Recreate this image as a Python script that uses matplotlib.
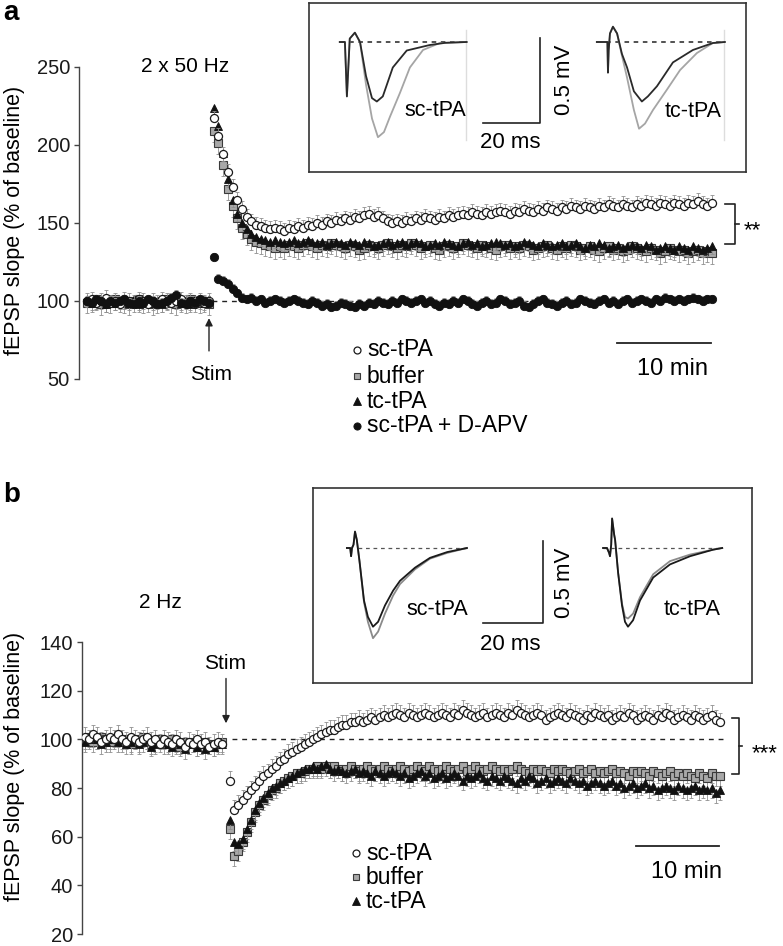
import numpy as np
import matplotlib.pyplot as plt
from matplotlib.lines import Line2D

plt.rcParams['font.family'] = ['Liberation Sans', 'DejaVu Sans']

W, H = 783, 946  # taille de sortie en pixels

# ---------------- a : 2 x 50 Hz (one point every 30 s) ----------------
base_sc_a = [100, 101, 99, 100, 102, 99, 100, 98, 101, 100, 99, 101, 100, 98,
             100, 99, 101, 100, 99, 100, 101, 99, 100, 98, 100, 99, 100]
base_buf_a = [99, 100, 101, 98, 100, 99, 101, 100, 99, 98, 100, 101, 99, 100,
              98, 99, 100, 101, 99, 98, 100, 99, 101, 100, 99, 100, 98]
base_tc_a = [101, 99, 100, 100, 98, 101, 99, 100, 100, 99, 101, 98, 100, 101,
             99, 100, 98, 100, 101, 100, 99, 100, 98, 101, 100, 99, 101]
base_apv_a = [100, 99, 101, 100, 98, 100, 99, 100, 101, 99, 98, 100, 99, 101,
              100, 98, 99, 100, 102, 104, 99, 98, 100, 99, 101, 100, 99]

post_sc_a = [217, 206, 194, 183, 173, 165, 159, 154, 151, 149,
             148, 147, 146, 147, 146, 145, 147, 146, 148, 147,
             149, 148, 150, 149, 151, 150, 152, 151, 153, 152,
             154, 153, 155, 156, 154, 155, 153, 151, 150, 151,
             150, 152, 151, 153, 152, 154, 153, 152, 154, 153,
             155, 154, 155, 156, 155, 157, 156, 155, 157, 156,
             157, 158, 157, 156, 158, 157, 159, 158, 157, 159,
             158, 160, 159, 158, 160, 159, 161, 160, 159, 161,
             160, 159, 161, 160, 162, 161, 160, 162, 161, 160,
             162, 161, 163, 162, 161, 163, 162, 161, 163, 162,
             161, 163, 162, 164, 162, 161, 163]
post_buf_a = [209, 201, 187, 172, 161, 153, 147, 143, 140, 138,
              137, 136, 135, 134, 135, 134, 136, 135, 134, 136,
              137, 135, 134, 136, 135, 137, 136, 135, 134, 136,
              135, 133, 134, 136, 135, 134, 136, 137, 135, 134,
              136, 135, 137, 136, 134, 135, 136, 134, 133, 135,
              136, 134, 135, 137, 136, 135, 134, 136, 135, 134,
              133, 135, 136, 134, 135, 134, 136, 135, 133, 134,
              135, 136, 134, 133, 135, 134, 136, 135, 133, 134,
              135, 133, 132, 134, 135, 133, 134, 132, 133, 135,
              134, 133, 132, 134, 133, 131, 132, 134, 133, 132,
              133, 131, 132, 133, 131, 132, 131]
post_tc_a = [224, 212, 195, 178, 165, 156, 150, 146, 143, 141,
             140, 139, 138, 139, 138, 137, 138, 139, 137, 138,
             139, 138, 137, 138, 136, 137, 138, 137, 136, 138,
             137, 136, 138, 137, 135, 136, 137, 138, 136, 137,
             138, 136, 137, 138, 137, 135, 136, 137, 136, 138,
             137, 136, 135, 137, 138, 136, 137, 135, 136, 137,
             138, 137, 136, 137, 135, 136, 138, 137, 136, 135,
             137, 136, 135, 136, 137, 135, 136, 137, 135, 134,
             136, 135, 137, 136, 134, 135, 136, 134, 135, 136,
             135, 134, 136, 135, 133, 134, 135, 134, 133, 135,
             134, 133, 135, 134, 133, 134, 135]
post_apv_a = [128, 114, 113, 111, 108, 105, 102, 101, 102, 100,
              101, 99, 100, 101, 100, 99, 100, 101, 100, 99,
              98, 100, 99, 97, 98, 96, 97, 99, 98, 97,
              96, 98, 97, 99, 98, 100, 99, 98, 100, 99,
              101, 100, 99, 100, 101, 99, 100, 98, 97, 99,
              98, 100, 99, 101, 100, 98, 97, 99, 100, 98,
              99, 101, 100, 98, 99, 100, 97, 96, 98, 100,
              101, 99, 98, 97, 99, 100, 98, 99, 101, 100,
              99, 98, 100, 101, 99, 100, 98, 100, 101, 99,
              100, 101, 100, 99, 101, 100, 102, 101, 100, 101,
              100, 101, 102, 101, 100, 101, 101]

# ---------------- b : 2 Hz ----------------
base_sc_b = [101, 100, 102, 101, 99, 100, 101, 100, 102, 100, 99, 101, 100, 99,
             100, 101, 99, 100, 98, 100, 99, 98, 100, 99, 97, 99, 98, 100, 98,
             99, 97, 98, 99, 98]
base_buf_b = [100, 101, 99, 100, 101, 100, 99, 100, 101, 99, 100, 98, 100, 99,
              101, 100, 98, 99, 100, 98, 99, 100, 98, 97, 99, 98, 99, 97, 98,
              99, 98, 97, 98, 99]
base_tc_b = [99, 100, 101, 100, 98, 99, 100, 101, 99, 100, 98, 99, 100, 98,
             99, 100, 97, 98, 99, 100, 98, 97, 99, 98, 96, 98, 99, 97, 98,
             96, 98, 97, 99, 98]

post_sc_b = [83, 71, 73, 75, 77, 79, 81, 83, 85, 86,
             88, 89, 91, 92, 94, 95, 96, 97, 98, 99,
             100, 101, 102, 103, 104, 104, 105, 106, 106, 107,
             107, 108, 107, 108, 109, 108, 109, 110, 109, 110,
             111, 110, 109, 111, 110, 109, 110, 111, 110, 109,
             110, 111, 110, 109, 111, 110, 112, 111, 110, 109,
             110, 111, 109, 110, 111, 110, 109, 111, 110, 112,
             111, 110, 109, 110, 111, 110, 108, 109, 110, 111,
             110, 109, 111, 110, 109, 108, 110, 109, 111, 110,
             109, 110, 108, 109, 110, 109, 111, 110, 108, 109,
             110, 109, 108, 110, 109, 111, 110, 108, 109, 110,
             109, 108, 110, 109, 108, 109, 110, 108, 107]
post_buf_b = [63, 52, 54, 58, 62, 66, 70, 73, 75, 77,
              79, 80, 82, 83, 84, 85, 86, 86, 87, 88,
              88, 89, 88, 89, 88, 89, 88, 87, 88, 89,
              88, 87, 88, 89, 88, 87, 88, 89, 88, 87,
              88, 89, 88, 87, 88, 89, 88, 87, 89, 88,
              87, 88, 89, 88, 87, 88, 89, 87, 88, 89,
              88, 87, 88, 89, 88, 87, 88, 87, 88, 89,
              88, 87, 86, 88, 87, 88, 87, 86, 88, 87,
              88, 87, 86, 87, 88, 86, 87, 88, 86, 87,
              86, 87, 88, 86, 87, 86, 85, 87, 86, 87,
              86, 85, 87, 86, 85, 86, 87, 85, 86, 85,
              86, 85, 84, 86, 85, 84, 86, 85, 85]
post_tc_b = [67, 58, 57, 59, 63, 67, 71, 74, 76, 78,
             80, 81, 82, 83, 84, 85, 86, 87, 88, 88,
             89, 88, 89, 90, 88, 87, 88, 87, 86, 87,
             88, 86, 87, 86, 85, 87, 86, 85, 86, 87,
             86, 85, 86, 84, 85, 86, 87, 85, 86, 84,
             85, 86, 84, 85, 86, 85, 83, 85, 84, 85,
             86, 84, 83, 85, 84, 83, 85, 84, 83, 82,
             84, 83, 85, 84, 82, 83, 84, 82, 83, 84,
             83, 82, 84, 83, 82, 83, 81, 82, 83, 82,
             81, 82, 83, 81, 82, 80, 81, 82, 80, 81,
             82, 80, 81, 79, 80, 81, 80, 79, 81, 80,
             79, 80, 81, 79, 80, 79, 80, 78, 79]

# typical SEM of each group (one-sided bars)
sem_a = {'sc': 5, 'buffer': 7, 'tc': 5, 'apv': 3}
sem_b = {'sc': 4, 'buffer': 4, 'tc': 4}

labels = {'sc': 'sc-tPA', 'buffer': 'buffer', 'tc': 'tc-tPA', 'apv': 'sc-tPA + D-APV'}

# ---------------- averaged fEPSP traces (ms from stimulus, mV) ----------------
tr_a_sc_t_black = [-2.5, -0.7, 0, 1.0, 2.8, 4.6, 6.7, 8.8, 10.5, 12.6, 16.1, 21, 29, 34.4, 42]
tr_a_sc_v_black = [0, 0, -0.32, 0.02, 0.055, 0.0, -0.2, -0.33, -0.35, -0.32, -0.15, -0.05, -0.018, -0.005, 0]
tr_a_sc_t_gray = [-2.5, -0.7, 0, 1.0, 2.8, 4.6, 6.7, 8.8, 10.9, 13, 15.1, 18.6, 22.1, 26.7, 32.6, 42]
tr_a_sc_v_gray = [0, 0, -0.32, 0.02, 0.055, 0.0, -0.25, -0.45, -0.56, -0.53, -0.44, -0.30, -0.15, -0.047, -0.006, 0]
tr_a_tc_t_black = [-3.9, -0.2, 0, 0.25, 0.7, 1.75, 3.2, 4.9, 6.7, 9.1, 11.9, 14, 17.2, 22.8, 29.8, 36.8, 41]
tr_a_tc_v_black = [0, 0, -0.18, -0.05, 0.05, 0.09, 0.05, -0.07, -0.15, -0.29, -0.35, -0.32, -0.26, -0.12, -0.047, -0.006, 0]
tr_a_tc_t_gray = [-3.9, -0.2, 0, 0.25, 0.7, 1.75, 3.2, 4.9, 6.7, 9.1, 10.9, 13, 15.8, 20.7, 25.3, 31.2, 36.8, 41]
tr_a_tc_v_gray = [0, 0, -0.18, -0.05, 0.05, 0.09, 0.05, -0.08, -0.21, -0.40, -0.51, -0.48, -0.40, -0.28, -0.165, -0.065, -0.006, 0]

tr_b_sc_t = [-2.7, -1.6, -1.3, -1.0, -0.5, 0, 0.6, 1.5, 3.0, 4.3, 6.0, 7.7, 10, 12.7, 15, 20, 25, 30.7, 37.3]
tr_b_sc_v_black = [0, 0, -0.05, 0.0, 0.02, 0.10, 0.05, -0.08, -0.32, -0.42, -0.48, -0.45, -0.35, -0.26, -0.20, -0.12, -0.06, -0.025, 0]
tr_b_sc_v_gray = [0, 0, -0.05, 0.0, 0.02, 0.10, 0.05, -0.08, -0.33, -0.45, -0.55, -0.51, -0.40, -0.29, -0.22, -0.13, -0.065, -0.03, 0]
tr_b_tc_t = [-3, -1.7, -1.0, -0.7, -0.3, 0, 0.7, 1.0, 2.0, 3.3, 4.3, 5.3, 7, 9.3, 13.7, 19.3, 26, 33.7, 36.7]
tr_b_tc_v_black = [0, 0, -0.03, -0.05, 0.02, 0.18, 0.08, 0.05, -0.15, -0.35, -0.45, -0.48, -0.44, -0.32, -0.18, -0.10, -0.05, -0.01, 0]
tr_b_tc_v_gray = [0, 0, -0.03, -0.05, 0.02, 0.18, 0.08, 0.05, -0.15, -0.34, -0.42, -0.43, -0.40, -0.30, -0.16, -0.08, -0.04, -0.01, 0]

sty = {
    'sc': dict(marker='o', mfc='white', mec='#1a1a1a', ms=5.8, mew=0.9),
    'buffer': dict(marker='s', mfc='#a8a8a8', mec='#3a3a3a', ms=5.2, mew=0.8),
    'tc': dict(marker='^', mfc='#111111', mec='#111111', ms=6.2, mew=0.6),
    'apv': dict(marker='o', mfc='#111111', mec='#111111', ms=6.0, mew=0.6),
}
leg_sty = {
    'sc': dict(marker='o', mfc='white', mec='#1a1a1a', ms=5.0, mew=0.9),
    'buffer': dict(marker='s', mfc='#a8a8a8', mec='#3a3a3a', ms=4.6, mew=0.8),
    'tc': dict(marker='^', mfc='#111111', mec='#111111', ms=5.4, mew=0.6),
    'apv': dict(marker='o', mfc='#111111', mec='#111111', ms=5.2, mew=0.6),
}

fig = plt.figure(figsize=(W / 100, H / 100), dpi=100)


def px_axes(x0, y0, x1, y1):
    return fig.add_axes([x0 / W, 1 - y1 / H, (x1 - x0) / W, (y1 - y0) / H])


def ftext(x, y, s, **kw):
    fig.text(x / W, 1 - y / H, s, **kw)


def plot_series(ax, t, y, sem, up, st, z):
    n = len(y)
    e = np.full(n, float(sem))
    zero = np.zeros(n)
    ax.errorbar(t, y, yerr=[zero, e] if up else [e, zero], fmt='none', ecolor='#8f8f8f',
                elinewidth=0.6, capsize=1.6, capthick=0.6, zorder=z - 0.5)
    ax.plot(t, y, ls='none', zorder=z, **st)


def main_axis(ax, ticks):
    for s in ['top', 'right', 'bottom']:
        ax.spines[s].set_visible(False)
    ax.spines['left'].set_color('#444444')
    ax.spines['left'].set_linewidth(1.0)
    ax.set_xticks([])
    ax.set_yticks(ticks)
    ax.tick_params(axis='y', direction='out', length=3.5, width=1, pad=3,
                   labelsize=14.5, color='#444444', labelcolor='#1a1a1a')
    ax.patch.set_visible(False)


def inset_axis(box, xmax, ymin, ymax):
    ax = px_axes(*box)
    ax.set_xlim(0, xmax)
    ax.set_ylim(ymin, ymax)
    ax.set_xticks([])
    ax.set_yticks([])
    for s in ax.spines.values():
        s.set_color('#333333')
        s.set_linewidth(1.2)
    return ax


# ================= panel a =================
ppm_a, stim_a = 9.4, 209  # px per minute, stimulus position
ax_a = px_axes(79, 67, 760, 379)
ax_a.set_xlim((79 - stim_a) / ppm_a, (760 - stim_a) / ppm_a)
ax_a.set_ylim(50, 250)
main_axis(ax_a, [50, 100, 150, 200, 250])

tb_a = -13 + 0.5 * np.arange(len(base_sc_a))
tp_a = 0.5 + 0.5 * np.arange(len(post_sc_a))
t_a = np.r_[tb_a, tp_a]

ax_a.plot([0.3, 53.8], [100, 100], ls=(0, (3.5, 3.5)), color='#222222', lw=1.0, zorder=0.5)
plot_series(ax_a, t_a, base_buf_a + post_buf_a, sem_a['buffer'], False, sty['buffer'], 2)
plot_series(ax_a, t_a, base_tc_a + post_tc_a, sem_a['tc'], False, sty['tc'], 3)
plot_series(ax_a, t_a, base_sc_a + post_sc_a, sem_a['sc'], True, sty['sc'], 4)
plot_series(ax_a, t_a, base_apv_a + post_apv_a, sem_a['apv'], True, sty['apv'], 5)

ax_a.annotate('', xy=(0, 89), xytext=(0, 68),
              arrowprops=dict(arrowstyle='-|>', color='#222222', lw=1.0,
                              shrinkA=0, shrinkB=0, mutation_scale=11))
ax_a.text(0.2, 53, 'Stim', ha='center', va='center', fontsize=15)
ax_a.plot([43.4, 53.4], [73, 73], color='#222222', lw=1.3, clip_on=False)
ax_a.text(49.3, 56.5, '10 min', ha='center', va='center', fontsize=17)
ax_a.plot([54.9, 56.0, 56.0, 54.9], [162.2, 162.2, 136.5, 136.5], color='#222222',
          lw=1.2, clip_on=False)
ax_a.plot([56.0, 56.35], [149.4, 149.4], color='#222222', lw=1.2, clip_on=False)
ftext(752, 231, '**', ha='center', va='center', fontsize=16)

ftext(11, 13, 'a', ha='center', va='center', fontsize=20, fontweight='bold')
ftext(185, 66, '2 x 50 Hz', ha='center', va='center', fontsize=15)
ftext(15, 220, 'fEPSP slope (% of baseline)', rotation=90, ha='center', va='center',
      fontsize=15.5)

for key, y in zip(['sc', 'buffer', 'tc', 'apv'], [350, 376, 401, 426]):
    fig.add_artist(Line2D([357 / W], [1 - y / H], ls='none', **leg_sty[key]))
    ftext(367, y, labels[key], ha='left', va='center', fontsize=16.5)

# inset a : 2.85 px/ms, 170 px/mV
ins_a = inset_axis((309, 3, 746, 172), 437 / 2.85, -130 / 170, 39 / 170)
for x0, tg, vg, tk, vk, dash in [
        (13.3, tr_a_sc_t_gray, tr_a_sc_v_gray, tr_a_sc_t_black, tr_a_sc_v_black, (10.9, 55.4)),
        (104.9, tr_a_tc_t_gray, tr_a_tc_v_gray, tr_a_tc_t_black, tr_a_tc_v_black, (101.0, 146.0))]:
    ins_a.plot(dash, [0, 0], ls=(0, (3, 3)), color='#222222', lw=1.1, zorder=1)
    ins_a.plot([dash[1] - 0.3] * 2, [0.07, -0.576], color='#dddddd', lw=1.0, zorder=0)
    ins_a.plot(x0 + np.array(tg), vg, color='#a5a5a5', lw=1.3, zorder=2)
    ins_a.plot(x0 + np.array(tk), vk, color='#2a2a2a', lw=1.3, zorder=3)
ins_a.plot([61.1, 81.1, 81.1], [-0.476, -0.476, 0.024], color='#222222', lw=1.2)
ins_a.text(44.2, -0.40, 'sc-tPA', ha='center', va='center', fontsize=15.5)
ins_a.text(134.7, -0.41, 'tc-tPA', ha='center', va='center', fontsize=15.5)
ins_a.text(70.5, -0.594, '20 ms', ha='center', va='center', fontsize=16)
ins_a.text(89.8, -0.224, '0.5 mV', ha='center', va='center', rotation=90, fontsize=16)

# ================= panel b =================
ppm_b, stim_b = 8.3, 226
ax_b = px_axes(82, 642, 760, 934)
ax_b.set_xlim((82 - stim_b) / ppm_b, (760 - stim_b) / ppm_b)
ax_b.set_ylim(20, 140)
main_axis(ax_b, [20, 40, 60, 80, 100, 120, 140])

tb_b = -17 + 0.5 * np.arange(len(base_sc_b))
tp_b = 0.5 + 0.5 * np.arange(len(post_sc_b))
t_b = np.r_[tb_b, tp_b]

ax_b.plot([0.7, 59.9], [100, 100], ls=(0, (3.5, 3.5)), color='#222222', lw=1.0, zorder=0.5)
plot_series(ax_b, t_b, base_buf_b + post_buf_b, sem_b['buffer'], False, sty['buffer'], 2)
plot_series(ax_b, t_b, base_tc_b + post_tc_b, sem_b['tc'], False, sty['tc'], 3)
plot_series(ax_b, t_b, base_sc_b + post_sc_b, sem_b['sc'], True, sty['sc'], 4)

ax_b.annotate('', xy=(0, 106.6), xytext=(0, 125),
              arrowprops=dict(arrowstyle='-|>', color='#222222', lw=1.0,
                              shrinkA=0, shrinkB=0, mutation_scale=11))
ax_b.text(-0.1, 131.3, 'Stim', ha='center', va='center', fontsize=15)
ax_b.plot([49.4, 59.4], [56, 56], color='#222222', lw=1.3, clip_on=False)
ax_b.text(55.5, 45.3, '10 min', ha='center', va='center', fontsize=17)
ax_b.plot([61.0, 61.8, 61.8, 61.0], [108.6, 108.6, 85.6, 85.6], color='#222222',
          lw=1.2, clip_on=False)
ax_b.plot([61.8, 62.2], [97.1, 97.1], color='#222222', lw=1.2, clip_on=False)
ftext(765, 754, '***', ha='center', va='center', fontsize=16)

ftext(12, 495, 'b', ha='center', va='center', fontsize=20, fontweight='bold')
ftext(160, 602, '2 Hz', ha='center', va='center', fontsize=15)
ftext(15, 766, 'fEPSP slope (% of baseline)', rotation=90, ha='center', va='center',
      fontsize=15.5)

for key, y in zip(['sc', 'buffer', 'tc'], [853, 877, 901]):
    fig.add_artist(Line2D([356 / W], [1 - y / H], ls='none', **leg_sty[key]))
    ftext(366, y, labels[key], ha='left', va='center', fontsize=16.5)

# inset b : 3 px/ms, 164 px/mV
ins_b = inset_axis((313, 488, 752, 683), 439 / 3.0, -135 / 164, 60 / 164)
for x0, tt, vg, vk, dash in [
        (14.0, tr_b_sc_t, tr_b_sc_v_gray, tr_b_sc_v_black, (15.0, 51.3)),
        (99.7, tr_b_tc_t, tr_b_tc_v_gray, tr_b_tc_v_black, (96.7, 136.3))]:
    ins_b.plot(dash, [0, 0], ls=(0, (3, 3)), color='#555555', lw=0.9, zorder=1)
    ins_b.plot(x0 + np.array(tt), vg, color='#8a8a8a', lw=1.3, zorder=2)
    ins_b.plot(x0 + np.array(tt), vk, color='#1a1a1a', lw=1.3, zorder=3)
ins_b.plot([56.7, 76.7, 76.7], [-0.457, -0.457, 0.043], color='#222222', lw=1.2)
ins_b.text(41.3, -0.378, 'sc-tPA', ha='center', va='center', fontsize=15.5)
ins_b.text(126.3, -0.378, 'tc-tPA', ha='center', va='center', fontsize=15.5)
ins_b.text(65.7, -0.591, '20 ms', ha='center', va='center', fontsize=16)
ins_b.text(84.0, -0.213, '0.5 mV', ha='center', va='center', rotation=90, fontsize=16)

fig.savefig('out.png', dpi=100)
